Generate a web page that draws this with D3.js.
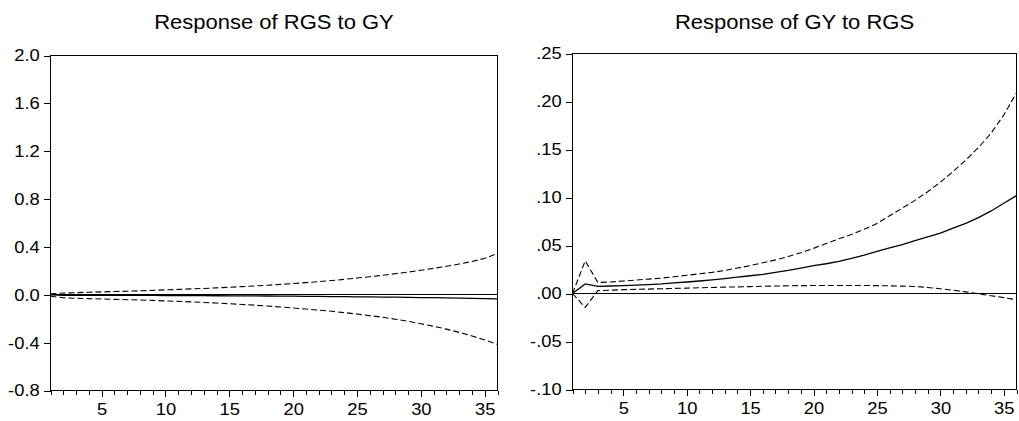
<!DOCTYPE html>
<html>
<head>
<meta charset="utf-8">
<script src="https://cdn.jsdelivr.net/npm/d3@7"></script>
<style>
  body { margin: 0; background: #fff; }
  text { font-family: "Liberation Sans", Arial, sans-serif; fill: #000; }
</style>
</head>
<body>
<script>
// periods 1..36
var periods = d3.range(1, 37);

// Response of RGS to GY
var rgsMid = [0.000, -0.004, -0.004, -0.004, -0.004, -0.0045, -0.005, -0.005, -0.0055, -0.006,
  -0.0065, -0.007, -0.0075, -0.008, -0.0085, -0.009, -0.0095, -0.010, -0.011, -0.012,
  -0.013, -0.014, -0.015, -0.016, -0.017, -0.018, -0.019, -0.020, -0.021, -0.023,
  -0.024, -0.026, -0.028, -0.030, -0.032, -0.035];
var rgsUp = [0.008, 0.015, 0.018, 0.021, 0.024, 0.027, 0.030, 0.033, 0.037, 0.041,
  0.045, 0.049, 0.053, 0.058, 0.063, 0.068, 0.074, 0.080, 0.087, 0.094,
  0.102, 0.110, 0.119, 0.129, 0.140, 0.151, 0.163, 0.176, 0.190, 0.205,
  0.221, 0.238, 0.257, 0.278, 0.305, 0.345];
var rgsLo = [-0.012, -0.025, -0.029, -0.032, -0.035, -0.038, -0.041, -0.044, -0.047, -0.051,
  -0.055, -0.059, -0.064, -0.069, -0.075, -0.081, -0.087, -0.094, -0.102, -0.110,
  -0.119, -0.128, -0.138, -0.149, -0.161, -0.174, -0.188, -0.204, -0.222, -0.242,
  -0.263, -0.287, -0.314, -0.344, -0.378, -0.415];

// Response of GY to RGS
var gyMid = [0.000, 0.010, 0.0075, 0.0078, 0.0082, 0.0087, 0.0093, 0.010, 0.011, 0.012,
  0.013, 0.0142, 0.0155, 0.017, 0.0185, 0.020, 0.022, 0.024, 0.0265, 0.029,
  0.031, 0.0335, 0.0365, 0.040, 0.044, 0.0475, 0.051, 0.055, 0.059, 0.063,
  0.068, 0.073, 0.079, 0.086, 0.094, 0.102];
var gyUp = [0.000, 0.034, 0.0115, 0.012, 0.013, 0.014, 0.015, 0.016, 0.0175, 0.019,
  0.0205, 0.022, 0.024, 0.0265, 0.029, 0.032, 0.035, 0.0385, 0.0425, 0.047,
  0.052, 0.057, 0.0615, 0.067, 0.073, 0.081, 0.089, 0.097, 0.106, 0.116,
  0.127, 0.139, 0.152, 0.167, 0.186, 0.209];
var gyLo = [0.000, -0.0145, 0.003, 0.0035, 0.004, 0.0043, 0.0046, 0.005, 0.0053, 0.0056,
  0.006, 0.0063, 0.0066, 0.0069, 0.0072, 0.0075, 0.0078, 0.008, 0.0082, 0.0083,
  0.0084, 0.0084, 0.0084, 0.0083, 0.0082, 0.008, 0.0077, 0.0073, 0.0063, 0.0049,
  0.0034, 0.0017, -0.0003, -0.0023, -0.0043, -0.0065];

// tick labels
var rgsTicks = [2.0, 1.6, 1.2, 0.8, 0.4, 0.0, -0.4, -0.8];
var rgsTickLabels = ["2.0", "1.6", "1.2", "0.8", "0.4", "0.0", "-0.4", "-0.8"];
var gyTicks = [0.25, 0.20, 0.15, 0.10, 0.05, 0.00, -0.05, -0.10];
var gyTickLabels = [".25", ".20", ".15", ".10", ".05", ".00", "-.05", "-.10"];
var xLabels = [5, 10, 15, 20, 25, 30, 35];

var svg = d3.select("body").append("svg")
  .attr("width", 1019)
  .attr("height", 421);

svg.append("rect").attr("width", 1019).attr("height", 421).attr("fill", "#fff");

function drawPanel(opt) {
  var x = d3.scaleLinear().domain([1, 36]).range([opt.left, opt.right]);
  var y = d3.scaleLinear().domain([opt.ticks[opt.ticks.length - 1], opt.ticks[0]])
    .range([opt.bottom, opt.top]);

  var g = svg.append("g");

  // title
  g.append("text")
    .attr("transform", "translate(" + ((opt.left + opt.right) / 2) + ",29) scale(1.1,1)")
    .attr("text-anchor", "middle")
    .style("font-size", "20px")
    .text(opt.title);

  // y axis
  var yAxis = g.append("g")
    .attr("transform", "translate(" + opt.left + ",0)")
    .call(d3.axisLeft(y).tickValues(opt.ticks)
      .tickFormat(function(d, i) { return opt.labels[i]; })
      .tickSize(7).tickSizeOuter(0).tickPadding(3));

  // x axis: minor ticks every period, longer ticks at labels
  var xMinor = g.append("g")
    .attr("transform", "translate(0," + opt.bottom + ")")
    .call(d3.axisBottom(x).tickValues(periods).tickFormat("").tickSize(4).tickSizeOuter(0));
  var xMajor = g.append("g")
    .attr("transform", "translate(0," + opt.bottom + ")")
    .call(d3.axisBottom(x).tickValues(xLabels).tickSize(6).tickSizeOuter(0).tickPadding(6));

  [yAxis, xMinor, xMajor].forEach(function(a) {
    a.select(".domain").remove();
    a.selectAll("line").attr("stroke", "#000").attr("shape-rendering", "crispEdges");
    a.selectAll("text").style("font-size", "17px").attr("fill", "#000")
      .attr("transform", "scale(1.08,1)");
  });

  // frame
  g.append("rect")
    .attr("x", opt.left).attr("y", opt.top)
    .attr("width", opt.right - opt.left).attr("height", opt.bottom - opt.top)
    .attr("fill", "none").attr("stroke", "#000").attr("stroke-width", 1.2)
    .attr("shape-rendering", "crispEdges");

  // zero line
  g.append("line")
    .attr("x1", opt.left).attr("x2", opt.right)
    .attr("y1", y(0)).attr("y2", y(0))
    .attr("stroke", "#000").attr("stroke-width", 1.2)
    .attr("shape-rendering", "crispEdges");

  var line = d3.line()
    .x(function(d, i) { return x(periods[i]); })
    .y(function(d) { return y(d); });

  g.append("path").datum(opt.up).attr("d", line)
    .attr("fill", "none").attr("stroke", "#000").attr("stroke-width", 1.1)
    .attr("stroke-dasharray", "6,3");
  g.append("path").datum(opt.lo).attr("d", line)
    .attr("fill", "none").attr("stroke", "#000").attr("stroke-width", 1.1)
    .attr("stroke-dasharray", "6,3");
  g.append("path").datum(opt.mid).attr("d", line)
    .attr("fill", "none").attr("stroke", "#000").attr("stroke-width", 1.3);
}

drawPanel({
  title: "Response of RGS to GY",
  left: 50.5, right: 497.5, top: 55.5, bottom: 390.5,
  ticks: rgsTicks, labels: rgsTickLabels,
  mid: rgsMid, up: rgsUp, lo: rgsLo
});

drawPanel({
  title: "Response of GY to RGS",
  left: 572.5, right: 1016.5, top: 53.5, bottom: 389.5,
  ticks: gyTicks, labels: gyTickLabels,
  mid: gyMid, up: gyUp, lo: gyLo
});
</script>
</body>
</html>
